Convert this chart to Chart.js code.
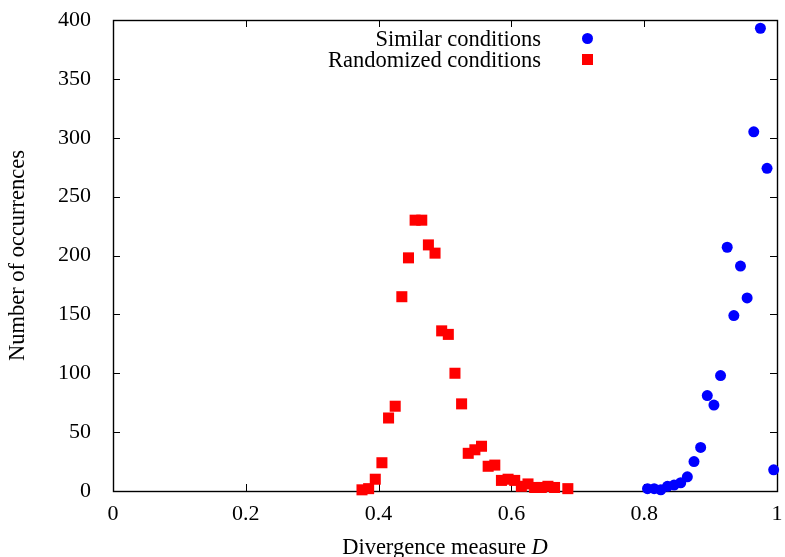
<!DOCTYPE html>
<html>
<head>
<meta charset="utf-8">
<script src="https://cdn.jsdelivr.net/npm/chart.js@4.4.0/dist/chart.umd.min.js"></script>
<style>
  html, body { margin: 0; padding: 0; background: #fff; }
  #wrap { width: 785px; height: 557px; }
</style>
</head>
<body>
<div id="wrap"><canvas id="chart"></canvas></div>
<script>
// divergence bins (centres) and counts
const similarD = [0.805, 0.815, 0.825, 0.835, 0.845, 0.855, 0.865, 0.875, 0.885, 0.895,
                  0.905, 0.915, 0.925, 0.935, 0.945, 0.955, 0.965, 0.975, 0.985, 0.995];
const similarCount = [2, 2, 1, 4, 5, 7, 12, 25, 37, 81,
                      73, 98, 207, 149, 191, 164, 305, 393, 274, 18];

const randomD = [0.375, 0.385, 0.395, 0.405, 0.415, 0.425, 0.435, 0.445, 0.455, 0.465,
                 0.475, 0.485, 0.495, 0.505, 0.515, 0.525, 0.535, 0.545, 0.555, 0.565,
                 0.575, 0.585, 0.595, 0.605, 0.615, 0.625, 0.635, 0.645, 0.655, 0.665, 0.685];
const randomCount = [1, 2, 10, 24, 62, 72, 165, 198, 230, 230,
                     209, 202, 136, 133, 100, 74, 32, 35, 38, 21,
                     22, 9, 10, 9, 4, 6, 3, 3, 4, 3, 2];

const seriesNames = ['Similar conditions', 'Randomized conditions'];
const xTicks = [0, 0.2, 0.4, 0.6, 0.8, 1];
const yTicks = [0, 50, 100, 150, 200, 250, 300, 350, 400];

const FONT = "'Liberation Serif', 'Times New Roman', serif";
Chart.defaults.font.family = FONT;
Chart.defaults.color = '#000';

const toPoints = (xs, ys) => xs.map((x, i) => ({ x: x, y: ys[i] }));
const noPad = s => { s.paddingLeft = 0; s.paddingRight = 0; s.paddingTop = 0; s.paddingBottom = 0; };

// gnuplot-like frame: full border, inward ticks on all four sides, legend, x title
const frame = {
  id: 'frame',
  beforeDatasetsDraw(chart) {
    const { ctx, chartArea: a, scales } = chart;
    const tl = 7;
    ctx.save();
    ctx.strokeStyle = '#000';
    ctx.lineWidth = 1;
    ctx.beginPath();
    scales.x.ticks.forEach(t => {
      const px = Math.round(scales.x.getPixelForValue(t.value)) + 0.5;
      ctx.moveTo(px, a.bottom); ctx.lineTo(px, a.bottom - tl);
      ctx.moveTo(px, a.top); ctx.lineTo(px, a.top + tl);
    });
    scales.y.ticks.forEach(t => {
      const py = Math.round(scales.y.getPixelForValue(t.value)) + 0.5;
      ctx.moveTo(a.left, py); ctx.lineTo(a.left + tl, py);
      ctx.moveTo(a.right, py); ctx.lineTo(a.right - tl, py);
    });
    ctx.stroke();
    ctx.lineWidth = 1.4;
    ctx.strokeRect(Math.round(a.left) + 0.5, Math.round(a.top) + 0.5,
                   Math.round(a.right - a.left), Math.round(a.bottom - a.top));
    ctx.restore();
  },
  afterDraw(chart) {
    const { ctx, chartArea: a } = chart;
    const textFont = '22.5px ' + FONT;
    ctx.save();
    ctx.textBaseline = 'alphabetic';

    // legend, top right inside the plot
    const textRight = a.right - 236;
    const markX = a.right - 189.5;
    chart.data.datasets.forEach((ds, i) => {
      const base = a.top + 26 + i * 21;
      ctx.font = textFont;
      ctx.fillStyle = '#000';
      ctx.textAlign = 'right';
      ctx.fillText(ds.label, textRight, base);
      ctx.fillStyle = ds.backgroundColor;
      const cy = base - 7.5;
      if (ds.pointStyle === 'rect') {
        ctx.fillRect(markX - 5.5, cy - 5.5, 11, 11);
      } else {
        ctx.beginPath();
        ctx.arc(markX, cy, 5.5, 0, Math.PI * 2);
        ctx.fill();
      }
    });

    // x axis title with italic D
    const main = 'Divergence measure ';
    ctx.fillStyle = '#000';
    ctx.font = textFont;
    const w1 = ctx.measureText(main).width;
    ctx.font = 'italic ' + textFont;
    const w2 = ctx.measureText('D').width;
    const x0 = (a.left + a.right) / 2 - (w1 + w2) / 2;
    const by = chart.height - 3;
    ctx.textAlign = 'left';
    ctx.font = textFont;
    ctx.fillText(main, x0, by);
    ctx.font = 'italic ' + textFont;
    ctx.fillText('D', x0 + w1, by);
    ctx.restore();
  }
};

new Chart(document.getElementById('chart'), {
  type: 'scatter',
  data: {
    datasets: [
      {
        label: seriesNames[0],
        data: toPoints(similarD, similarCount),
        backgroundColor: '#0000ff',
        borderWidth: 0,
        pointStyle: 'circle',
        pointRadius: 5.5,
        pointHoverRadius: 5.5,
        clip: false
      },
      {
        label: seriesNames[1],
        data: toPoints(randomD, randomCount),
        backgroundColor: '#ff0000',
        borderWidth: 0,
        pointStyle: 'rect',
        pointRadius: 7.8,
        pointHoverRadius: 7.8,
        clip: false
      }
    ]
  },
  options: {
    responsive: true,
    maintainAspectRatio: false,
    animation: false,
    events: [],
    layout: { padding: { top: 20, right: 8, left: 0, bottom: 0 } },
    plugins: {
      legend: { display: false },
      tooltip: { enabled: false }
    },
    scales: {
      x: {
        type: 'linear',
        min: 0,
        max: 1,
        grid: { display: false },
        border: { display: false },
        afterBuildTicks: s => { s.ticks = xTicks.map(v => ({ value: v })); },
        afterFit: s => { s.height = 66; noPad(s); },
        ticks: {
          padding: 2,
          color: '#000',
          font: { family: FONT, size: 22 },
          maxRotation: 0,
          callback: v => String(v)
        }
      },
      y: {
        type: 'linear',
        min: 0,
        max: 400,
        grid: { display: false },
        border: { display: false },
        afterBuildTicks: s => { s.ticks = yTicks.map(v => ({ value: v })); },
        afterFit: s => { s.width = 113; noPad(s); },
        title: {
          display: true,
          text: 'Number of occurrences',
          color: '#000',
          font: { family: FONT, size: 22.5 },
          padding: { top: 5, bottom: 0 }
        },
        ticks: {
          padding: 14,
          color: '#000',
          font: { family: FONT, size: 22 },
          callback: v => String(v)
        }
      }
    }
  },
  plugins: [frame]
});
</script>
</body>
</html>
